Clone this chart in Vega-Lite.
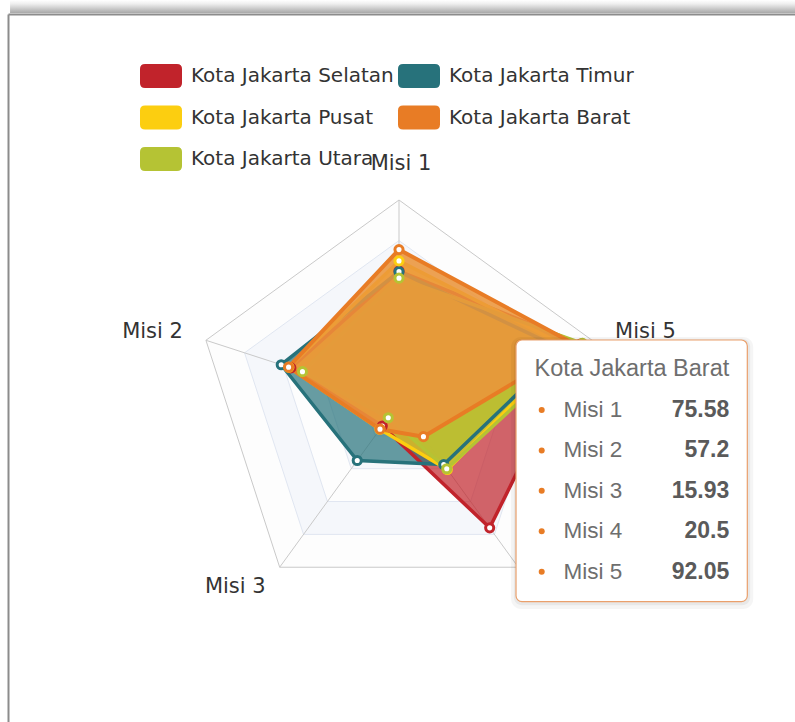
{
  "$schema": "https://vega.github.io/schema/vega-lite/v6.json",
  "width": 787,
  "height": 708,
  "autosize": {"type": "none"},
  "padding": {"left": 8, "top": 14, "right": 0, "bottom": 0},
  "background": "#ffffff",
  "config": {
    "view": {"stroke": null},
    "font": "DejaVu Sans",
    "axis": {"domainColor": "#8c8c8c", "domainWidth": 2, "ticks": false, "labels": false, "grid": false, "title": null}
  },
  "datasets": {
    "scores": [
      {"kota": "Kota Jakarta Selatan", "misi": "Misi 1", "nilai": 65},
      {"kota": "Kota Jakarta Selatan", "misi": "Misi 2", "nilai": 56},
      {"kota": "Kota Jakarta Selatan", "misi": "Misi 3", "nilai": 14},
      {"kota": "Kota Jakarta Selatan", "misi": "Misi 4", "nilai": 76},
      {"kota": "Kota Jakarta Selatan", "misi": "Misi 5", "nilai": 94},
      {"kota": "Kota Jakarta Timur", "misi": "Misi 1", "nilai": 64.7},
      {"kota": "Kota Jakarta Timur", "misi": "Misi 2", "nilai": 61},
      {"kota": "Kota Jakarta Timur", "misi": "Misi 3", "nilai": 35},
      {"kota": "Kota Jakarta Timur", "misi": "Misi 4", "nilai": 37.5},
      {"kota": "Kota Jakarta Timur", "misi": "Misi 5", "nilai": 85},
      {"kota": "Kota Jakarta Pusat", "misi": "Misi 1", "nilai": 70},
      {"kota": "Kota Jakarta Pusat", "misi": "Misi 2", "nilai": 57},
      {"kota": "Kota Jakarta Pusat", "misi": "Misi 3", "nilai": 16},
      {"kota": "Kota Jakarta Pusat", "misi": "Misi 4", "nilai": 40.5},
      {"kota": "Kota Jakarta Pusat", "misi": "Misi 5", "nilai": 88},
      {"kota": "Kota Jakarta Barat", "misi": "Misi 1", "nilai": 75.58},
      {"kota": "Kota Jakarta Barat", "misi": "Misi 2", "nilai": 57.2},
      {"kota": "Kota Jakarta Barat", "misi": "Misi 3", "nilai": 15.93},
      {"kota": "Kota Jakarta Barat", "misi": "Misi 4", "nilai": 20.5},
      {"kota": "Kota Jakarta Barat", "misi": "Misi 5", "nilai": 92.05},
      {"kota": "Kota Jakarta Utara", "misi": "Misi 1", "nilai": 61.5},
      {"kota": "Kota Jakarta Utara", "misi": "Misi 2", "nilai": 50},
      {"kota": "Kota Jakarta Utara", "misi": "Misi 3", "nilai": 9},
      {"kota": "Kota Jakarta Utara", "misi": "Misi 4", "nilai": 40},
      {"kota": "Kota Jakarta Utara", "misi": "Misi 5", "nilai": 95}
    ],
    "grid": [
      {"level": 100, "misi": ["Misi 1", "Misi 2", "Misi 3", "Misi 4", "Misi 5"]},
      {"level": 80, "misi": ["Misi 1", "Misi 2", "Misi 3", "Misi 4", "Misi 5"]},
      {"level": 60, "misi": ["Misi 1", "Misi 2", "Misi 3", "Misi 4", "Misi 5"]},
      {"level": 40, "misi": ["Misi 1", "Misi 2", "Misi 3", "Misi 4", "Misi 5"]},
      {"level": 20, "misi": ["Misi 1", "Misi 2", "Misi 3", "Misi 4", "Misi 5"]}
    ]
  },
  "layer": [
    {
      "layer": [
        {
          "data": {"name": "grid"},
          "transform": [
            {"flatten": ["misi"]},
            {"calculate": "indexof(['Misi 1','Misi 2','Misi 3','Misi 4','Misi 5'], datum.misi)", "as": "idx"},
            {"calculate": "-datum.level*sin(datum.idx*2*PI/5)", "as": "px"},
            {"calculate": "datum.level*cos(datum.idx*2*PI/5)", "as": "py"}
          ],
          "encoding": {
            "x": {"field": "px", "type": "quantitative", "scale": {"domain": [-192.61, 195.07], "nice": false, "zero": false}, "axis": {"orient": "top"}},
            "y": {"field": "py", "type": "quantitative", "scale": {"domain": [-157.14, 191.63], "nice": false, "zero": false}, "axis": {"orient": "left"}}
          },
          "layer": [
            {
              "mark": {"type": "line", "filled": true, "interpolate": "linear-closed", "strokeWidth": 0},
              "encoding": {
                "detail": {"field": "level", "type": "nominal"},
                "order": {"field": "idx", "type": "quantitative"},
                "fill": {"condition": {"test": "datum.level == 80 || datum.level == 40", "value": "#f5f7fb"}, "value": "#fdfdfd"}
              }
            },
            {
              "mark": {"type": "line", "interpolate": "linear-closed", "strokeWidth": 1},
              "encoding": {
                "detail": {"field": "level", "type": "nominal"},
                "order": {"field": "idx", "type": "quantitative"},
                "stroke": {"condition": {"test": "datum.level == 100", "value": "#c9c9c9"}, "value": "#e0e6f1"}
              }
            },
            {
              "transform": [{"filter": "datum.level == 100"}],
              "mark": {"type": "rule", "color": "#c9c9c9", "strokeWidth": 1},
              "encoding": {"x2": {"datum": 0}, "y2": {"datum": 0}}
            },
            {
              "transform": [{"filter": "datum.level == 100 && datum.misi == 'Misi 1'"}],
              "mark": {"type": "text", "dy": -36, "dx": 2, "align": "center", "baseline": "middle", "fontSize": 21, "color": "#333333"},
              "encoding": {"text": {"field": "misi"}}
            },
            {
              "transform": [{"filter": "datum.level == 100 && datum.misi == 'Misi 2'"}],
              "mark": {"type": "text", "dx": -23, "dy": -8, "align": "right", "baseline": "middle", "fontSize": 21, "color": "#333333"},
              "encoding": {"text": {"field": "misi"}}
            },
            {
              "transform": [{"filter": "datum.level == 100 && datum.misi == 'Misi 3'"}],
              "mark": {"type": "text", "dx": -14, "dy": 20, "align": "right", "baseline": "middle", "fontSize": 21, "color": "#333333"},
              "encoding": {"text": {"field": "misi"}}
            },
            {
              "transform": [{"filter": "datum.level == 100 && datum.misi == 'Misi 5'"}],
              "mark": {"type": "text", "dx": 23, "dy": -8, "align": "left", "baseline": "middle", "fontSize": 21, "color": "#333333"},
              "encoding": {"text": {"field": "misi"}}
            }
          ]
        },
        {
          "data": {"name": "scores"},
          "transform": [
            {"calculate": "indexof(['Misi 1','Misi 2','Misi 3','Misi 4','Misi 5'], datum.misi)", "as": "idx"},
            {"calculate": "-datum.nilai*sin(datum.idx*2*PI/5)", "as": "px"},
            {"calculate": "datum.nilai*cos(datum.idx*2*PI/5)", "as": "py"}
          ],
          "encoding": {
            "x": {"field": "px", "type": "quantitative", "scale": {"domain": [-192.61, 195.07], "nice": false, "zero": false}, "axis": {"orient": "top"}},
            "y": {"field": "py", "type": "quantitative", "scale": {"domain": [-157.14, 191.63], "nice": false, "zero": false}, "axis": {"orient": "left"}},
            "order": {"field": "idx", "type": "quantitative"}
          },
          "layer": [
            {
              "transform": [{"filter": "datum.kota != 'Kota Jakarta Barat'"}],
              "mark": {"type": "line", "filled": true, "interpolate": "linear-closed", "fillOpacity": 0.7, "strokeWidth": 0},
              "encoding": {
                "color": {
                  "field": "kota", "type": "nominal",
                  "scale": {"domain": ["Kota Jakarta Selatan", "Kota Jakarta Timur", "Kota Jakarta Pusat", "Kota Jakarta Barat", "Kota Jakarta Utara"], "range": ["#c1232b", "#27727b", "#fcce10", "#e87c25", "#b5c334"]},
                  "legend": {
                    "title": null, "orient": "none", "legendX": 132, "legendY": 41, "columns": 2, "direction": "horizontal", "gridAlign": "each", "padding": 0,
                    "symbolType": "M-0.76,-0.571L0.76,-0.571Q1,-0.571 1,-0.331L1,0.331Q1,0.571 0.76,0.571L-0.76,0.571Q-1,0.571 -1,0.331L-1,-0.331Q-1,-0.571 -0.76,-0.571Z",
                    "symbolSize": 1764, "symbolStrokeWidth": 0, "symbolOpacity": 1,
                    "labelFont": "DejaVu Sans", "labelFontSize": 20, "labelColor": "#333333", "labelLimit": 400, "labelOffset": 9,
                    "rowPadding": 8.5, "columnPadding": 4
                  }
                }
              }
            },
            {
              "transform": [{"filter": "datum.kota != 'Kota Jakarta Barat'"}],
              "mark": {"type": "line", "interpolate": "linear-closed", "strokeWidth": 3.5, "strokeJoin": "round"},
              "encoding": {"color": {"field": "kota", "type": "nominal", "legend": null}}
            },
            {
              "transform": [{"filter": "datum.kota == 'Kota Jakarta Barat'"}],
              "mark": {"type": "line", "filled": true, "interpolate": "linear-closed", "fill": "#eb953b", "fillOpacity": 0.88, "strokeWidth": 0},
              "encoding": {"detail": {"field": "kota", "type": "nominal"}}
            },
            {
              "transform": [{"filter": "datum.kota == 'Kota Jakarta Barat'"}],
              "mark": {"type": "line", "interpolate": "linear-closed", "strokeWidth": 4, "strokeJoin": "round"},
              "encoding": {"color": {"field": "kota", "type": "nominal", "legend": null}}
            },
            {
              "mark": {"type": "point", "shape": "circle", "filled": false, "fill": "#ffffff", "fillOpacity": 1, "opacity": 1, "size": 66, "strokeWidth": 3},
              "encoding": {"color": {"field": "kota", "type": "nominal", "legend": null}}
            }
          ]
        },
        {
          "data": {"name": "scores"},
          "transform": [{"filter": "datum.kota == 'Kota Jakarta Barat' && datum.misi == 'Misi 1'"}],
          "layer": [
            {
              "mark": {"type": "rect", "fill": {"gradient": "linear", "x1": 0, "y1": 0, "x2": 0, "y2": 1, "stops": [{"offset": 0, "color": "#ffffff"}, {"offset": 0.3, "color": "#eeeeee"}, {"offset": 1, "color": "#a8a8a8"}]}},
              "encoding": {
                "x": {"datum": -191.6, "type": "quantitative", "scale": {"domain": [-192.61, 195.07], "nice": false, "zero": false}, "axis": {"orient": "top"}},
                "x2": {"datum": 195.07},
                "y": {"datum": 198.5, "type": "quantitative", "scale": {"domain": [-157.14, 191.63], "nice": false, "zero": false}, "axis": {"orient": "left"}},
                "y2": {"datum": 192.1}
              }
            },
            {
              "mark": {"type": "rect", "fill": "#000000", "opacity": 0.04, "cornerRadius": 10},
              "encoding": {
                "x": {"datum": 55.2, "type": "quantitative", "scale": {"domain": [-192.61, 195.07], "nice": false, "zero": false}, "axis": {"orient": "top"}},
                "x2": {"datum": 174.5},
                "y": {"datum": 32.5, "type": "quantitative", "scale": {"domain": [-157.14, 191.63], "nice": false, "zero": false}, "axis": {"orient": "left"}},
                "y2": {"datum": -101.5}
              }
            },
            {
              "mark": {"type": "rect", "fill": "#000000", "opacity": 0.05, "cornerRadius": 8},
              "encoding": {
                "x": {"datum": 56.6, "type": "quantitative", "scale": {"domain": [-192.61, 195.07], "nice": false, "zero": false}, "axis": {"orient": "top"}},
                "x2": {"datum": 173.0},
                "y": {"datum": 31.6, "type": "quantitative", "scale": {"domain": [-157.14, 191.63], "nice": false, "zero": false}, "axis": {"orient": "left"}},
                "y2": {"datum": -99.6}
              }
            },
            {
              "mark": {"type": "rect", "fill": "#ffffff", "stroke": "#eaa06c", "strokeWidth": 1.2, "cornerRadius": 6},
              "encoding": {
                "x": {"datum": 57.64, "type": "quantitative", "scale": {"domain": [-192.61, 195.07], "nice": false, "zero": false}, "axis": {"orient": "top"}},
                "x2": {"datum": 171.58},
                "y": {"datum": 31.03, "type": "quantitative", "scale": {"domain": [-157.14, 191.63], "nice": false, "zero": false}, "axis": {"orient": "left"}},
                "y2": {"datum": -97.88}
              }
            },
            {
              "mark": {"type": "text", "align": "left", "baseline": "middle", "font": "Liberation Sans", "fontSize": 23.5, "color": "#6e6e6e"},
              "encoding": {
                "x": {"datum": 66.8, "type": "quantitative", "scale": {"domain": [-192.61, 195.07], "nice": false, "zero": false}, "axis": {"orient": "top"}},
                "y": {"datum": 16.6, "type": "quantitative", "scale": {"domain": [-157.14, 191.63], "nice": false, "zero": false}, "axis": {"orient": "left"}},
                "text": {"field": "kota"}
              }
            }
          ]
        }
      ]
    },
    {
      "data": {"name": "scores"},
      "transform": [{"filter": "datum.kota == 'Kota Jakarta Barat'"}],
      "encoding": {
        "y": {"field": "misi", "type": "ordinal", "scale": {"type": "point", "domain": ["Misi 1", "Misi 2", "Misi 3", "Misi 4", "Misi 5"], "range": [396, 557.7], "padding": 0}, "axis": null}
      },
      "layer": [
        {
          "mark": {"type": "circle", "size": 36, "color": "#e87c25", "opacity": 1},
          "encoding": {"x": {"datum": 70.3, "type": "quantitative", "scale": {"domain": [-192.61, 195.07], "nice": false, "zero": false}, "axis": {"orient": "top"}}}
        },
        {
          "mark": {"type": "text", "align": "left", "baseline": "middle", "font": "Liberation Sans", "fontSize": 22.5, "color": "#6e6e6e"},
          "encoding": {
            "x": {"datum": 81.0, "type": "quantitative", "scale": {"domain": [-192.61, 195.07], "nice": false, "zero": false}, "axis": {"orient": "top"}},
            "text": {"field": "misi"}
          }
        },
        {
          "mark": {"type": "text", "align": "right", "baseline": "middle", "font": "Liberation Sans", "fontSize": 23, "fontWeight": "bold", "color": "#5a5a5a"},
          "encoding": {
            "x": {"datum": 162.7, "type": "quantitative", "scale": {"domain": [-192.61, 195.07], "nice": false, "zero": false}, "axis": {"orient": "top"}},
            "text": {"field": "nilai", "type": "nominal"}
          }
        }
      ]
    }
  ],
  "resolve": {"scale": {"y": "independent"}}
}
